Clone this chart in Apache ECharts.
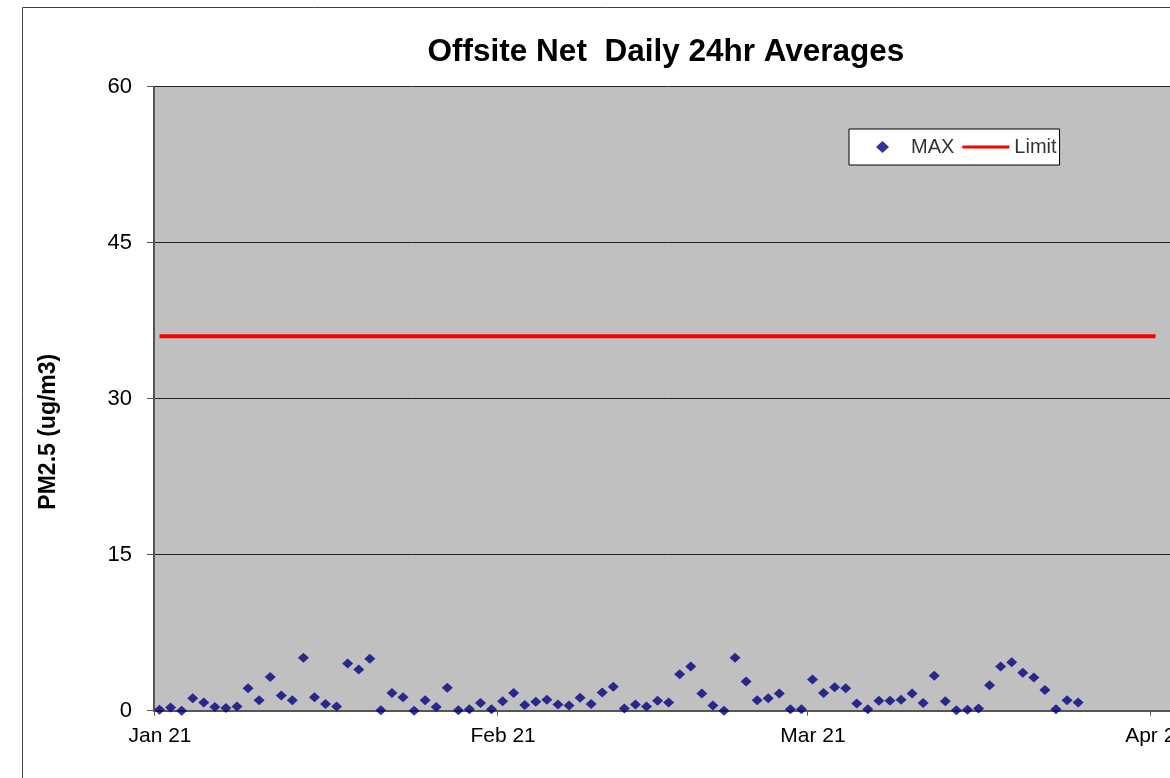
<!DOCTYPE html>
<html>
<head>
<meta charset="utf-8">
<title>Offsite Net Daily 24hr Averages</title>
<script src="https://cdn.jsdelivr.net/npm/echarts@6/dist/echarts.min.js"></script>
<style>
  html, body { margin: 0; padding: 0; background: #fff; overflow: hidden; }
  /* chart is a bit wider than the window: the plot runs off the right edge like the original */
  #main { width: 1190px; height: 778px; }
</style>
</head>
<body>
<div id="main"></div>
<script>
// daily PM2.5 max, starting 2021-01-01
var startDate = '2021-01-01';
var janValues = [0.1, 0.3, 0, 1.2, 0.8, 0.35, 0.25, 0.4, 2.15, 1.0, 3.25, 1.45, 1.0, 5.1, 1.3, 0.65,
  0.4, 4.55, 3.95, 5.0, 0.05, 1.7, 1.3, 0, 1.0, 0.35, 2.2, 0.05, 0.15, 0.75, 0.15];
var febValues = [0.9, 1.7, 0.55, 0.85, 1.05, 0.6, 0.5, 1.25, 0.65, 1.75, 2.3, 0.2, 0.6, 0.4, 0.95,
  0.8, 3.5, 4.25, 1.65, 0.5, 0, 5.1, 2.8, 1.0, 1.2, 1.65, 0.15, 0.15];
var marValues = [3.0, 1.7, 2.25, 2.15, 0.7, 0.15, 0.95, 0.95, 1.05, 1.65, 0.75, 3.35, 0.9, 0.05,
  0.1, 0.2, 2.45, 4.25, 4.65, 3.65, 3.2, 2.0, 0.15, 1.0, 0.8];

// limit line
var limitDates = ['2021-01-01', '2021-04-01'];
var limitValues = [36, 36];

// x axis ticks (first of each month)
var tickDates = ['2021-01-01', '2021-02-01', '2021-03-01', '2021-04-01'];
var tickLabels = ['Jan 21', 'Feb 21', 'Mar 21', 'Apr 21'];

function dayOf(s) {
  return (Date.parse(s) - Date.parse(startDate)) / 86400000;
}

var maxValues = janValues.concat(febValues, marValues);
var maxData = maxValues.map(function (v, i) { return [i + 0.5, v]; });
var limitData = limitDates.map(function (d, i) { return [dayOf(d) + 0.5, limitValues[i]]; });
var tickDays = tickDates.map(dayOf);

var font = 'Liberation Sans, Arial, sans-serif';
var myChart = echarts.init(document.getElementById('main'));

option = {
  backgroundColor: '#fff',
  animation: false,
  title: {
    text: 'Offsite Net  Daily 24hr Averages',
    left: 661,
    top: 31,
    textAlign: 'center',
    textStyle: { fontFamily: font, fontSize: 31.5, fontWeight: 'bold', color: '#000' }
  },
  legend: {
    left: 849,
    top: 129,
    orient: 'horizontal',
    backgroundColor: '#fff',
    borderColor: '#000',
    borderWidth: 1,
    borderRadius: 0,
    padding: [8, 3, 8, 10],
    itemWidth: 47,
    itemHeight: 13,
    itemGap: 8,
    textStyle: { fontFamily: font, fontSize: 20, color: '#333' },
    data: [
      // extra move-to points keep the icon box 47x13 so the shapes are not stretched
      { name: 'MAX', icon: 'path://M0,0 M47,13 M17,6.5 L23.5,0.5 L30,6.5 L23.5,12.5 Z' },
      { name: 'Limit', icon: 'path://M0,0 M47,13 M0,5 L47,5 L47,8 L0,8 Z' }
    ]
  },
  graphic: [{
    type: 'rect',
    shape: { x: 22.5, y: 7.5, width: 1220, height: 800 },
    style: { fill: 'none', stroke: '#404040', lineWidth: 1 },
    silent: true,
    z: -1
  }],
  grid: {
    left: 154,
    top: 86.7,
    bottom: 67.3,
    right: 4.4,
    backgroundColor: '#c0c0c0',
    show: true,
    borderWidth: 0
  },
  xAxis: {
    type: 'value',
    min: 0,
    max: 93,
    splitLine: { show: false },
    axisLine: { lineStyle: { color: '#555', width: 2 } },
    axisTick: {
      customValues: tickDays,
      length: 5,
      lineStyle: { color: '#555', width: 1 }
    },
    axisLabel: {
      customValues: tickDays,
      margin: 15,
      padding: [0, 0, 0, 12],
      fontFamily: font,
      fontSize: 21,
      color: '#000',
      formatter: function (v) {
        var k = tickDays.indexOf(v);
        return k >= 0 ? tickLabels[k] : '';
      }
    }
  },
  yAxis: {
    type: 'value',
    min: 0,
    max: 60,
    interval: 15,
    name: 'PM2.5 (ug/m3)',
    nameLocation: 'middle',
    nameRotate: 90,
    nameGap: 94,
    nameTextStyle: {
      fontFamily: font, fontSize: 23, fontWeight: 'bold', color: '#000',
      padding: [0, 66, 0, 0]
    },
    axisLine: { show: true, lineStyle: { color: '#555', width: 2 } },
    axisTick: { show: true, length: 7, lineStyle: { color: '#555', width: 1 } },
    axisLabel: { margin: 22, fontFamily: font, fontSize: 22, color: '#000' },
    splitLine: { lineStyle: { color: '#222', width: 1 } }
  },
  series: [
    {
      name: 'MAX',
      type: 'scatter',
      symbol: 'diamond',
      symbolSize: [11, 10],
      itemStyle: { color: '#000080' },
      data: maxData,
      z: 3
    },
    {
      name: 'Limit',
      type: 'line',
      showSymbol: false,
      symbol: 'none',
      lineStyle: { color: '#ff0000', width: 4 },
      itemStyle: { color: '#ff0000' },
      data: limitData,
      z: 2
    }
  ]
};

myChart.setOption(option);
</script>
</body>
</html>
